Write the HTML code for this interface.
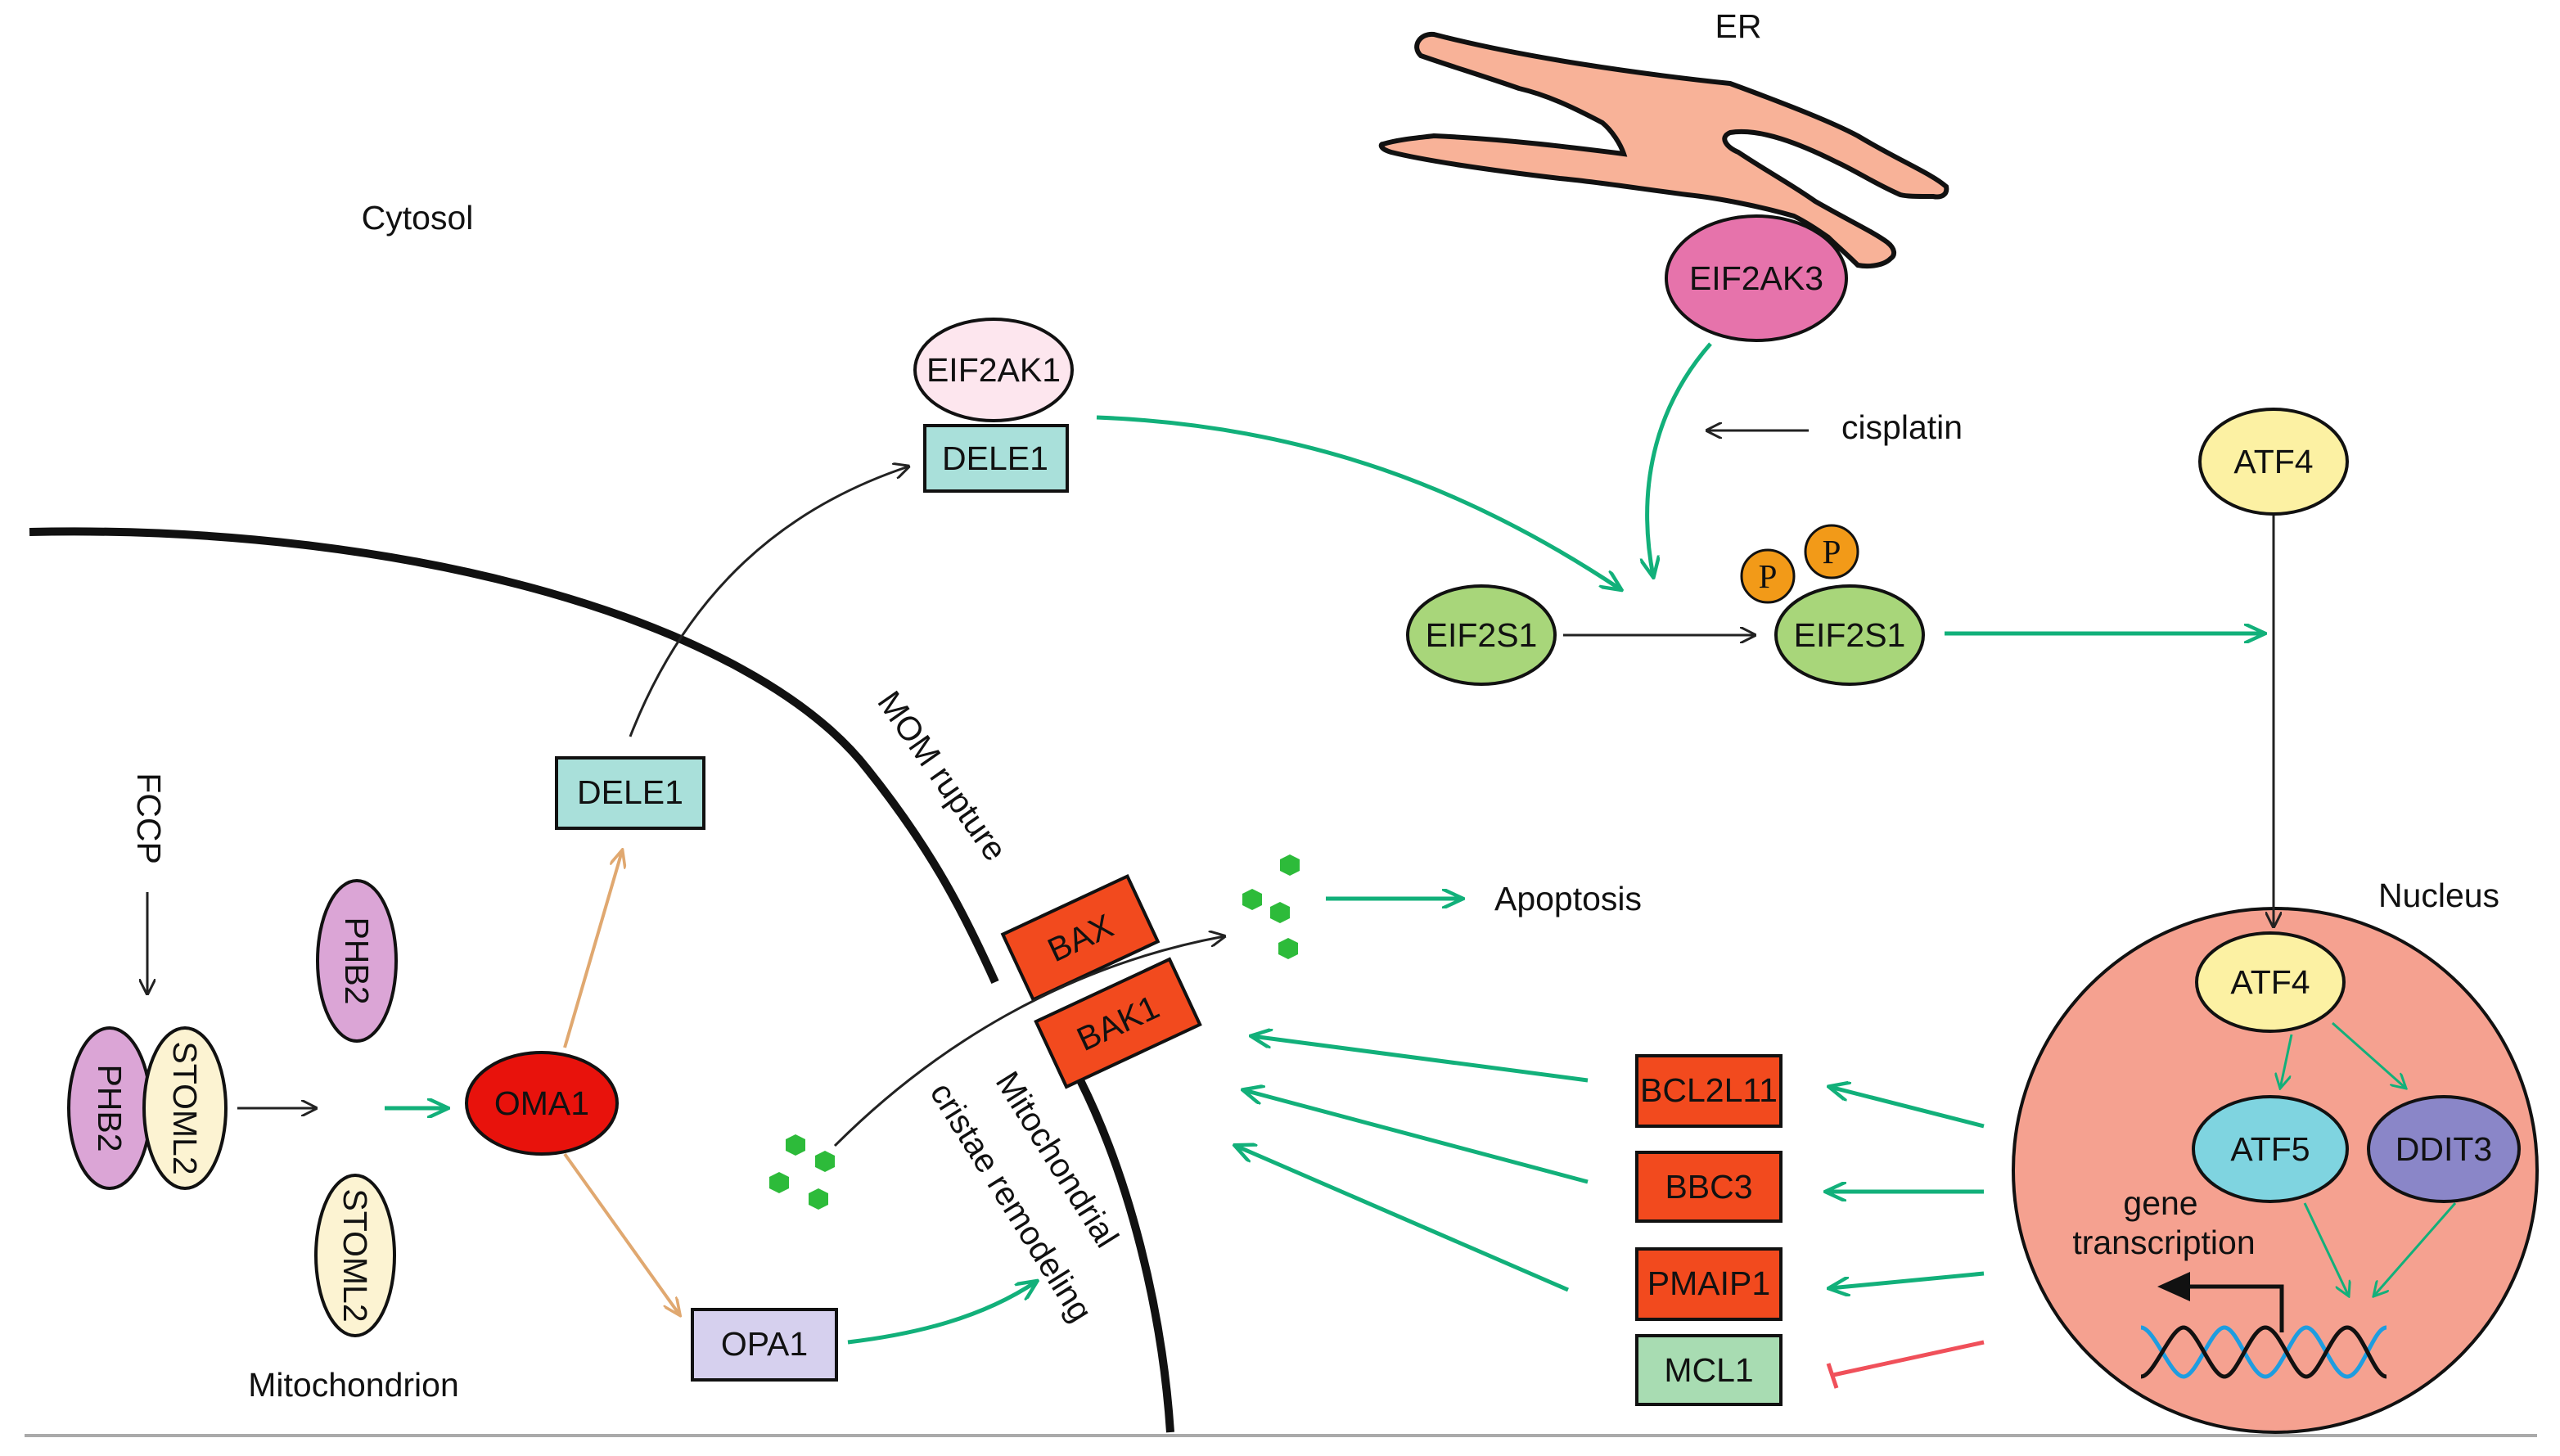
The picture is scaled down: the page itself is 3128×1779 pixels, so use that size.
<!DOCTYPE html>
<html><head><meta charset="utf-8"><style>
html,body{margin:0;padding:0;background:#fff}
svg{display:block}
text{font-family:"Liberation Sans",Arial,sans-serif;font-size:20.5px;fill:#111}
</style></head><body>
<svg width="3128" height="1779" viewBox="0 0 1564 889.5" xmlns="http://www.w3.org/2000/svg">
<defs>
<marker id="ab" markerWidth="10" markerHeight="10" refX="9" refY="5" orient="auto" markerUnits="userSpaceOnUse"><path d="M0,0 L10,5 L0,10" fill="none" stroke="#222" stroke-width="1.5"/></marker>
<marker id="ag" markerWidth="14" markerHeight="12" refX="12" refY="6" orient="auto" markerUnits="userSpaceOnUse"><path d="M0,0 L13,6 L0,12" fill="none" stroke="#12b07a" stroke-width="2.2"/></marker>
<marker id="at" markerWidth="12" markerHeight="10" refX="10" refY="5" orient="auto" markerUnits="userSpaceOnUse"><path d="M0,0 L11,5 L0,10" fill="none" stroke="#e0a870" stroke-width="1.8"/></marker>
<marker id="agt" markerWidth="10" markerHeight="10" refX="9" refY="5" orient="auto" markerUnits="userSpaceOnUse"><path d="M0,0 L9,5 L0,10" fill="none" stroke="#12b07a" stroke-width="1.5"/></marker>
</defs>
<line x1="15" y1="877" x2="1550" y2="877" stroke="#aaa" stroke-width="2"/>
<!-- ER -->
<path d="M876,21 C930,35 1000,45 1057,51 C1095,65 1120,75 1135,83 C1160,98 1180,106 1189,114 C1190,119 1186,121 1181,120 C1170,120 1165,120 1161,119 C1145,112 1135,105 1122,99 C1100,88 1075,78 1057,81 C1050,84 1055,90 1062,93 C1080,105 1095,113 1109,123 C1130,135 1145,142 1153,148 C1158,152 1158,156 1155,158 C1150,163 1140,163 1135,162 C1128,155 1122,150 1117,145 C1110,140 1102,135 1096,132 C1075,126 1050,121 1031,119 C1000,115 975,111 953,109 C910,104 870,98 850,93 C843,91 843,88 845,88 C855,85 868,84 876,83 C920,85 960,90 992,94 C990,88 985,80 979,75 C960,65 945,58 928,54 C905,46 885,40 868,34 C862,28 868,20 876,21 Z" fill="#f8b298" stroke="#111" stroke-width="3"/>
<text x="1062" y="23" text-anchor="middle">ER</text>
<ellipse cx="1073" cy="170" rx="55" ry="38" fill="#e673ab" stroke="#111" stroke-width="2"/>
<text x="1073" y="177" text-anchor="middle">EIF2AK3</text>
<text x="255" y="140" text-anchor="middle">Cytosol</text>
<path d="M18,325 C250,320 460,380 530,470 C570,520 590,560 608,600" fill="none" stroke="#111" stroke-width="5"/>
<path d="M660,660 C690,720 710,800 715,875" fill="none" stroke="#111" stroke-width="5"/>
<ellipse cx="607" cy="226" rx="48" ry="31" fill="#fde6ee" stroke="#111" stroke-width="2"/>
<text x="607" y="233" text-anchor="middle">EIF2AK1</text>
<rect x="565" y="260" width="87" height="40" fill="#a9e0da" stroke="#111" stroke-width="2"/>
<text x="608" y="287" text-anchor="middle">DELE1</text>
<path d="M670,255 C800,260 900,300 990,360" fill="none" stroke="#12b07a" stroke-width="2.5" marker-end="url(#ag)"/>
<path d="M1045,210 C1010,250 1000,300 1010,352" fill="none" stroke="#12b07a" stroke-width="2.5" marker-end="url(#ag)"/>
<text x="1162" y="268" text-anchor="middle">cisplatin</text>
<line x1="1105" y1="263" x2="1043" y2="263" stroke="#222" stroke-width="1.5" marker-end="url(#ab)"/>
<ellipse cx="905" cy="388" rx="45" ry="30" fill="#a8d67a" stroke="#111" stroke-width="2"/>
<text x="905" y="395" text-anchor="middle">EIF2S1</text>
<line x1="955" y1="388" x2="1072" y2="388" stroke="#222" stroke-width="1.5" marker-end="url(#ab)"/>
<ellipse cx="1130" cy="388" rx="45" ry="30" fill="#a8d67a" stroke="#111" stroke-width="2"/>
<text x="1130" y="395" text-anchor="middle">EIF2S1</text>
<circle cx="1080" cy="352" r="16" fill="#f29a18" stroke="#111" stroke-width="1.5"/>
<text x="1080" y="359" text-anchor="middle" style="font-family:'Liberation Serif',serif">P</text>
<circle cx="1119" cy="337" r="16" fill="#f29a18" stroke="#111" stroke-width="1.5"/>
<text x="1119" y="344" text-anchor="middle" style="font-family:'Liberation Serif',serif">P</text>
<line x1="1188" y1="387" x2="1383" y2="387" stroke="#12b07a" stroke-width="2.5" marker-end="url(#ag)"/>
<ellipse cx="1389" cy="282" rx="45" ry="32" fill="#fcf1a3" stroke="#111" stroke-width="2"/>
<text x="1389" y="289" text-anchor="middle">ATF4</text>
<text x="1490" y="554" text-anchor="middle">Nucleus</text>
<circle cx="1390" cy="715" r="160" fill="#f5a190" stroke="#111" stroke-width="2"/>
<line x1="1389" y1="315" x2="1389" y2="566" stroke="#222" stroke-width="1.5" marker-end="url(#ab)"/>
<ellipse cx="1387" cy="600" rx="45" ry="30" fill="#fcf1a3" stroke="#111" stroke-width="2"/>
<text x="1387" y="607" text-anchor="middle">ATF4</text>
<line x1="1400" y1="632" x2="1393" y2="665" stroke="#12b07a" stroke-width="1.5" marker-end="url(#agt)"/>
<line x1="1425" y1="625" x2="1470" y2="665" stroke="#12b07a" stroke-width="1.5" marker-end="url(#agt)"/>
<ellipse cx="1387" cy="702" rx="47" ry="32" fill="#7fd4e0" stroke="#111" stroke-width="2"/>
<text x="1387" y="709" text-anchor="middle">ATF5</text>
<ellipse cx="1493" cy="702" rx="46" ry="32" fill="#8a86c8" stroke="#111" stroke-width="2"/>
<text x="1493" y="709" text-anchor="middle">DDIT3</text>
<line x1="1408" y1="735" x2="1435" y2="792" stroke="#12b07a" stroke-width="1.5" marker-end="url(#agt)"/>
<line x1="1500" y1="735" x2="1450" y2="792" stroke="#12b07a" stroke-width="1.5" marker-end="url(#agt)"/>
<text x="1320" y="742" text-anchor="middle">gene</text>
<text x="1322" y="766" text-anchor="middle">transcription</text>
<path d="M1308,811 C1316,811 1326,841 1334,841 S1351,811 1359,811 S1375,841 1384,841 S1401,811 1409,811 S1425,841 1434,841 S1450,811 1458,811" fill="none" stroke="#1e9de0" stroke-width="2.5"/>
<path d="M1308,841 C1316,841 1326,811 1334,811 S1351,841 1359,841 S1375,811 1384,811 S1401,841 1409,841 S1425,811 1434,811 S1450,841 1458,841" fill="none" stroke="#111" stroke-width="2.5"/>
<path d="M1394,814 L1394,786 L1322,786" fill="none" stroke="#111" stroke-width="2.5"/>
<path d="M1338,777 L1318,786 L1338,795 Z" fill="#111"/>
<rect x="1000" y="645" width="88" height="43" fill="#f24a1e" stroke="#111" stroke-width="2"/>
<text x="1044" y="673" text-anchor="middle">BCL2L11</text>
<rect x="1000" y="704" width="88" height="42" fill="#f24a1e" stroke="#111" stroke-width="2"/>
<text x="1044" y="732" text-anchor="middle">BBC3</text>
<rect x="1000" y="763" width="88" height="43" fill="#f24a1e" stroke="#111" stroke-width="2"/>
<text x="1044" y="791" text-anchor="middle">PMAIP1</text>
<rect x="1000" y="816" width="88" height="42" fill="#a8dcb2" stroke="#111" stroke-width="2"/>
<text x="1044" y="844" text-anchor="middle">MCL1</text>
<line x1="1212" y1="688" x2="1118" y2="664" stroke="#12b07a" stroke-width="2.5" marker-end="url(#ag)"/>
<line x1="1212" y1="728" x2="1116" y2="728" stroke="#12b07a" stroke-width="2.5" marker-end="url(#ag)"/>
<line x1="1212" y1="778" x2="1118" y2="787" stroke="#12b07a" stroke-width="2.5" marker-end="url(#ag)"/>
<line x1="1212" y1="820" x2="1120" y2="840" stroke="#f0505a" stroke-width="2.5"/>
<line x1="1117" y1="833" x2="1122" y2="848" stroke="#f0505a" stroke-width="2.5"/>
<line x1="970" y1="660" x2="765" y2="633" stroke="#12b07a" stroke-width="2.5" marker-end="url(#ag)"/>
<line x1="970" y1="722" x2="760" y2="666" stroke="#12b07a" stroke-width="2.5" marker-end="url(#ag)"/>
<line x1="958" y1="788" x2="755" y2="700" stroke="#12b07a" stroke-width="2.5" marker-end="url(#ag)"/>
<g transform="translate(660,573) rotate(-25)"><rect x="-42" y="-22" width="84" height="44" fill="#f24a1e" stroke="#111" stroke-width="2"/><text x="0" y="7" text-anchor="middle">BAX</text></g>
<g transform="translate(683,625) rotate(-25)"><rect x="-45" y="-22" width="90" height="44" fill="#f24a1e" stroke="#111" stroke-width="2"/><text x="0" y="7" text-anchor="middle">BAK1</text></g>
<path d="M510,700 C570,640 650,590 748,572" fill="none" stroke="#222" stroke-width="1.5" marker-end="url(#ab)"/>
<g fill="#2dbb3a">
<polygon points="788,522 794,525 794,532 788,535 782,532 782,525"/>
<polygon points="765,543 771,546 771,553 765,556 759,553 759,546"/>
<polygon points="782,551 788,554 788,561 782,564 776,561 776,554"/>
<polygon points="787,573 793,576 793,583 787,586 781,583 781,576"/>
<polygon points="486,693 492,696 492,703 486,706 480,703 480,696"/>
<polygon points="504,703 510,706 510,713 504,716 498,713 498,706"/>
<polygon points="476,716 482,719 482,726 476,729 470,726 470,719"/>
<polygon points="500,726 506,729 506,736 500,739 494,736 494,729"/>
</g>
<line x1="810" y1="549" x2="893" y2="549" stroke="#12b07a" stroke-width="2.5" marker-end="url(#ag)"/>
<text x="958" y="556" text-anchor="middle">Apoptosis</text>
<text transform="translate(570,478) rotate(55)" text-anchor="middle">MOM rupture</text>
<text transform="translate(640,712) rotate(58)" text-anchor="middle">Mitochondrial</text>
<text transform="translate(612,738) rotate(58)" text-anchor="middle">cristae remodeling</text>
<rect x="340" y="463" width="90" height="43" fill="#a9e0da" stroke="#111" stroke-width="2"/>
<text x="385" y="491" text-anchor="middle">DELE1</text>
<path d="M385,450 C420,360 480,310 555,285" fill="none" stroke="#222" stroke-width="1.5" marker-end="url(#ab)"/>
<text transform="translate(84,500) rotate(90)" text-anchor="middle">FCCP</text>
<line x1="90" y1="545" x2="90" y2="607" stroke="#222" stroke-width="1.5" marker-end="url(#ab)"/>
<ellipse cx="67" cy="677" rx="25" ry="49" fill="#dba5d6" stroke="#111" stroke-width="2"/>
<text transform="translate(60,677) rotate(90)" text-anchor="middle">PHB2</text>
<ellipse cx="113" cy="677" rx="25" ry="49" fill="#fcf3d2" stroke="#111" stroke-width="2"/>
<text transform="translate(106,677) rotate(90)" text-anchor="middle">STOML2</text>
<ellipse cx="218" cy="587" rx="24" ry="49" fill="#dba5d6" stroke="#111" stroke-width="2"/>
<text transform="translate(211,587) rotate(90)" text-anchor="middle">PHB2</text>
<ellipse cx="217" cy="767" rx="24" ry="49" fill="#fcf3d2" stroke="#111" stroke-width="2"/>
<text transform="translate(210,767) rotate(90)" text-anchor="middle">STOML2</text>
<line x1="145" y1="677" x2="193" y2="677" stroke="#222" stroke-width="1.5" marker-end="url(#ab)"/>
<line x1="235" y1="677" x2="273" y2="677" stroke="#12b07a" stroke-width="2.5" marker-end="url(#ag)"/>
<ellipse cx="331" cy="674" rx="46" ry="31" fill="#e8120c" stroke="#111" stroke-width="2"/>
<text x="331" y="681" text-anchor="middle">OMA1</text>
<line x1="345" y1="640" x2="380" y2="520" stroke="#e0a870" stroke-width="2" marker-end="url(#at)"/>
<line x1="345" y1="705" x2="415" y2="803" stroke="#e0a870" stroke-width="2" marker-end="url(#at)"/>
<rect x="423" y="800" width="88" height="43" fill="#d6d0ee" stroke="#111" stroke-width="2"/>
<text x="467" y="828" text-anchor="middle">OPA1</text>
<path d="M518,820 C560,815 600,805 633,783" fill="none" stroke="#12b07a" stroke-width="2.5" marker-end="url(#ag)"/>
<text x="216" y="853" text-anchor="middle">Mitochondrion</text>
</svg>
</body></html>
